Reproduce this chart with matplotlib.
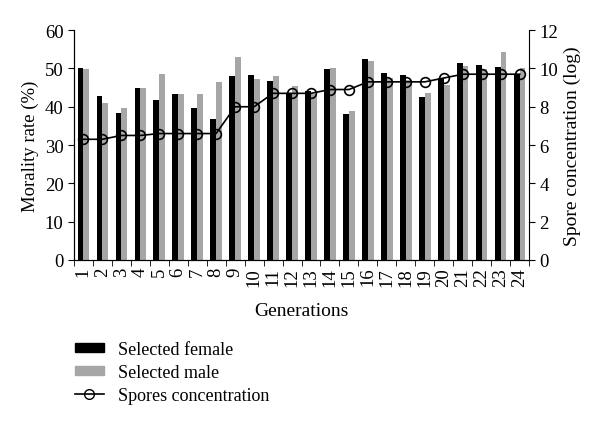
import numpy as np
import matplotlib.pyplot as plt
from matplotlib.lines import Line2D
from matplotlib.patches import Patch

plt.rcParams['font.family'] = ['Liberation Serif', 'DejaVu Serif']

# data
generations = [str(i) for i in range(1, 25)]
female = [50.1, 42.8, 38.3, 44.8, 41.8, 43.3, 39.6, 36.8, 48.1, 48.4, 46.8, 43.6,
          44.0, 49.9, 38.1, 52.5, 48.9, 48.4, 42.5, 47.4, 51.3, 51.0, 50.5, 48.3]
male = [49.9, 40.9, 39.7, 44.8, 48.6, 43.3, 43.3, 46.4, 53.1, 47.2, 48.1, 45.4,
        43.2, 50.1, 38.9, 51.9, 47.5, 47.0, 43.5, 45.8, 50.7, 49.9, 54.2, 50.0]
spores = [6.3, 6.3, 6.5, 6.5, 6.6, 6.6, 6.6, 6.6, 8.0, 8.0, 8.7, 8.7,
          8.7, 8.9, 8.9, 9.3, 9.3, 9.3, 9.3, 9.5, 9.7, 9.7, 9.7, 9.7]

fig = plt.figure(figsize=(6, 4.27), dpi=100)
ax = fig.add_axes([0.123, 0.389, 0.759, 0.538])
x = np.arange(1, 25)
w = 0.3
ax.bar(x - w / 2, female, w, color='black')
ax.bar(x + w / 2, male, w, color='#a6a6a6')
ax.set_xlim(0.5, 24.5)
ax.set_ylim(0, 60)
ax.set_yticks(range(0, 61, 10))
ax.set_xticks(x)
ax.set_xticklabels(generations, rotation=90)
ax.set_xticks(np.arange(0.5, 25, 1), minor=True)
ax.tick_params(axis='x', which='major', length=0, pad=5, labelsize=13.5)
ax.tick_params(axis='x', which='minor', length=4, direction='out')
ax.tick_params(axis='y', length=4, direction='out', labelsize=13.5)
ax.spines['top'].set_visible(False)
ax.spines['right'].set_visible(False)
ax.set_ylabel('Morality rate (%)', fontsize=13.5)
ax.set_xlabel('Generations', fontsize=14, labelpad=12)

ax2 = ax.twinx()
ax2.plot(x, spores, color='black', lw=1.2, marker='o', markersize=7,
         markerfacecolor='none', markeredgecolor='black', markeredgewidth=1.2)
ax2.set_ylim(0, 12)
ax2.set_yticks(range(0, 13, 2))
ax2.tick_params(axis='y', length=4, direction='out', labelsize=13.5)
ax2.spines['top'].set_visible(False)
ax2.set_ylabel('Spore concentration (log)', fontsize=14)

handles = [Patch(color='black'), Patch(color='#a6a6a6'),
           Line2D([], [], color='black', lw=1.2, marker='o', markersize=7,
                  markerfacecolor='none')]
fig.legend(handles, ['Selected female', 'Selected male', 'Spores concentration'],
           loc='upper left', bbox_to_anchor=(0.098, 0.237), frameon=False,
           fontsize=13, handlelength=1.6, handleheight=0.45, handletextpad=0.8,
           labelspacing=0.33)

fig.savefig('out.png', dpi=100)
